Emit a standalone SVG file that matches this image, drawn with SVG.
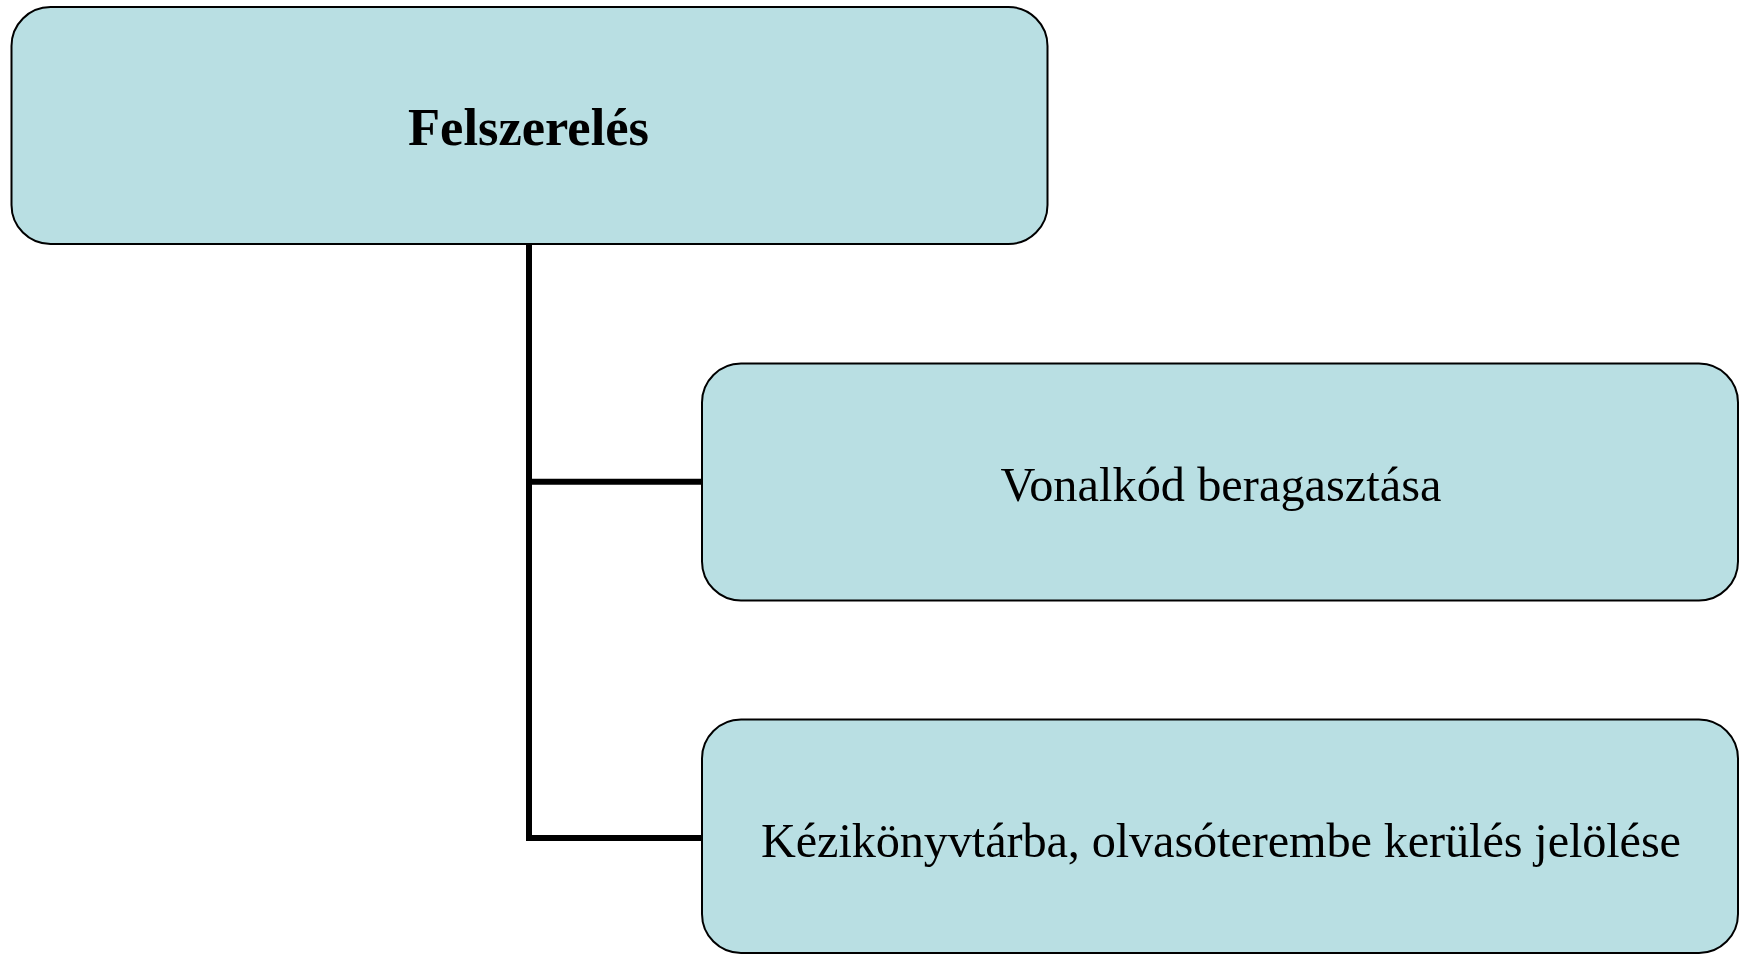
<svg xmlns="http://www.w3.org/2000/svg" width="1743" height="954" viewBox="0 0 1743 954">
<style>
.box{fill:#b9dfe3;stroke:#000;stroke-width:2}
.t{font-family:"Liberation Serif","Times New Roman",serif;fill:#000;text-anchor:middle}
.h{font-size:52.5px;font-weight:bold}
.n{font-size:48.3px}
.c{fill:none;stroke:#000;stroke-width:6;stroke-linejoin:miter}
</style>
<rect width="1743" height="954" fill="#fff"/>
<g id="connectors">
<path class="c" d="M529,244 V838 H702"/>
<path class="c" d="M529,481.7 H702"/>
</g>
<g id="node-felszereles">
<rect class="box" x="11.5" y="7" width="1036" height="237" rx="39" ry="39"/>
<text class="t h" x="528.5" y="145" textLength="241">Felszerelés</text>
</g>
<g id="node-vonalkod">
<rect class="box" x="702" y="363.5" width="1036" height="237" rx="39" ry="39"/>
<text class="t n" x="1221" y="500.7" textLength="441">Vonalkód beragasztása</text>
</g>
<g id="node-kezikonyvtar">
<rect class="box" x="702" y="719.5" width="1036" height="233.5" rx="39" ry="39"/>
<text class="t n" x="1221" y="857.3" textLength="920">Kézikönyvtárba, olvasóterembe kerülés jelölése</text>
</g>
</svg>
